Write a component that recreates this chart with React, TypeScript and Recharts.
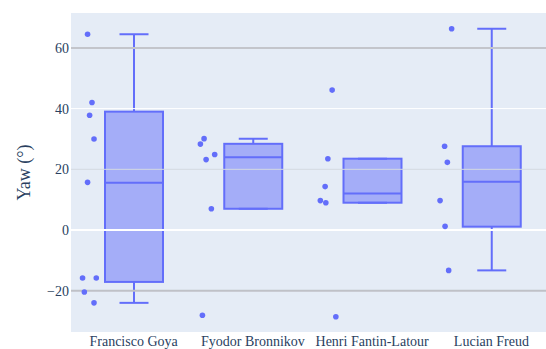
import {
  Bar,
  CartesianGrid,
  ComposedChart,
  ReferenceLine,
  Scatter,
  XAxis,
  YAxis
} from 'recharts';

const categories = ['Francisco Goya', 'Fyodor Bronnikov', 'Henri Fantin-Latour', 'Lucian Freud'];

// box statistics
const whiskerLow = [-24.0, 7.0, 9.0, -13.3];
const q1 = [-17.1, 7.0, 9.0, 1.1];
const median = [15.6, 24.0, 12.0, 15.9];
const q3 = [39.0, 28.4, 23.5, 27.6];
const whiskerHigh = [64.5, 30.1, 23.5, 66.3];

// individual observations, with their horizontal jitter (in category widths)
const goyaYaw = [64.5, 42.0, 37.8, 30.0, 15.7, -15.8, -15.8, -20.4, -24.0];
const goyaJitter = [-0.386, -0.349, -0.369, -0.332, -0.386, -0.428, -0.313, -0.413, -0.332];
const bronnikovYaw = [30.1, 28.3, 24.9, 23.2, 7.0, -28.1];
const bronnikovJitter = [-0.409, -0.44, -0.32, -0.392, -0.348, -0.423];
const fantinYaw = [46.1, 23.5, 14.3, 9.7, 9.0, -28.6];
const fantinJitter = [-0.335, -0.371, -0.394, -0.434, -0.388, -0.304];
const freudYaw = [66.3, 27.6, 22.3, 9.7, 1.2, -13.3];
const freudJitter = [-0.333, -0.392, -0.369, -0.43, -0.388, -0.358];

const yTicks = [-20, 0, 20, 40, 60];

const pointYaw = [goyaYaw, bronnikovYaw, fantinYaw, freudYaw];
const pointJitter = [goyaJitter, bronnikovJitter, fantinJitter, freudJitter];

const boxRows = categories.map((name, i) => ({
  name,
  range: [whiskerLow[i], whiskerHigh[i]],
  low: whiskerLow[i],
  high: whiskerHigh[i],
  q1: q1[i],
  median: median[i],
  q3: q3[i]
}));

const points = pointYaw.flatMap((ys, i) => ys.map((y, j) => ({ x: i + pointJitter[i][j], y })));

const LINE = '#636efa';
const FILL = 'rgba(99,110,250,0.5)';
const SERIF = '"Liberation Serif", "Times New Roman", Times, "DejaVu Serif", serif';
const gridColor: Record<number, string> = { 60: '#c3c5cb', 40: '#ffffff', 20: '#d5d9e1', 0: '#ffffff', '-20': '#bfc1c7' };
const gridWidth: Record<number, number> = { 60: 2, 40: 1, 20: 1, 0: 2, '-20': 2 };

const BoxShape = (props: any) => {
  const { x, y, width, height, payload } = props;
  const top = Math.min(y, y + height);
  const bottom = Math.max(y, y + height);
  const span = payload.high - payload.low;
  const py = (v: number) => (span === 0 ? top : bottom - ((v - payload.low) / span) * (bottom - top));
  const cx = x + width / 2;
  const cap = width / 4;
  const yq1 = py(payload.q1);
  const yq3 = py(payload.q3);
  const ymed = py(payload.median);
  return (
    <g>
      <line x1={cx} x2={cx} y1={top} y2={yq3} stroke={LINE} strokeWidth={2} />
      <line x1={cx} x2={cx} y1={yq1} y2={bottom} stroke={LINE} strokeWidth={2} />
      <line x1={cx - cap} x2={cx + cap} y1={top} y2={top} stroke={LINE} strokeWidth={2} />
      <line x1={cx - cap} x2={cx + cap} y1={bottom} y2={bottom} stroke={LINE} strokeWidth={2} />
      <rect x={x} y={yq3} width={width} height={yq1 - yq3} fill={FILL} stroke={LINE} strokeWidth={2} />
      <line x1={x} x2={x + width} y1={ymed} y2={ymed} stroke={LINE} strokeWidth={2} />
    </g>
  );
};

const Dot = (props: any) => <circle cx={props.cx} cy={props.cy} r={2.8} fill={LINE} />;

const tickStyle = { fill: '#2a3f5f', fontSize: 14, style: { fontFamily: SERIF } };

export default function App() {
  return (
    <div
      style={{
        position: 'absolute',
        left: 0,
        top: 0,
        width: 546,
        height: 349,
        overflow: 'hidden',
        background: '#fff',
        fontFamily: SERIF
      }}
    >
      <ComposedChart width={552} height={349} data={boxRows} margin={{ top: 13, right: 0, bottom: 0, left: 0 }} style={{ fontFamily: SERIF }}>
        <CartesianGrid fill="#e5ecf6" horizontal={false} vertical={false} />
        {yTicks.map((t) => (
          <ReferenceLine key={t} y={t} stroke={gridColor[t]} strokeWidth={gridWidth[t]} />
        ))}
        <XAxis
          dataKey="name"
          type="category"
          padding={{ left: 3, right: 1 }}
          axisLine={false}
          tickLine={false}
          tickSize={0}
          tickMargin={4}
          height={17}
          interval={0}
          tick={tickStyle}
        />
        <XAxis xAxisId="pts" type="number" dataKey="x" domain={[-0.525, 3.5086]} allowDataOverflow hide />
        <YAxis
          type="number"
          domain={[-33.6, 71.5]}
          ticks={yTicks}
          allowDataOverflow
          width={71}
          axisLine={false}
          tickLine={false}
          tickSize={0}
          tickMargin={2}
          tick={tickStyle}
          tickFormatter={(v: number) => (v < 0 ? `\u2212${Math.abs(v)}` : `${v}`)}
          label={{
            value: 'Yaw (°)',
            angle: -90,
            position: 'insideLeft',
            offset: 24,
            style: { textAnchor: 'middle', fill: '#2a3f5f', fontSize: 18, fontFamily: SERIF }
          }}
        />
        <Bar dataKey="range" barSize={58} shape={(p: any) => <BoxShape {...p} />} isAnimationActive={false} />
        <Scatter xAxisId="pts" data={points} dataKey="y" shape={(p: any) => <Dot {...p} />} isAnimationActive={false} />
      </ComposedChart>
    </div>
  );
}
